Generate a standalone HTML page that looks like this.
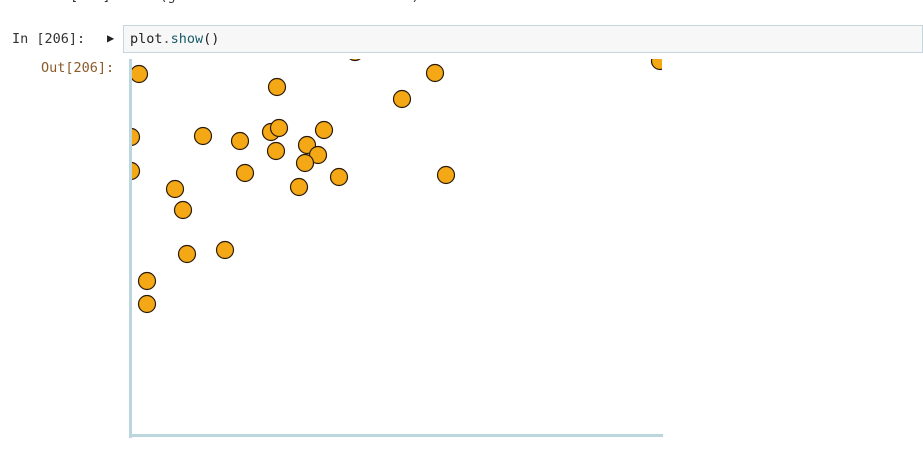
<!DOCTYPE html>
<html><head><meta charset="utf-8"><style>
body{margin:0;width:923px;height:451px;background:#fff;overflow:hidden;position:relative;font-family:"DejaVu Sans Mono","Liberation Mono",monospace;font-size:13.5px}
.abs{position:absolute}
</style></head><body>
<div class="abs" style="left:70px;top:-12px;color:#333;white-space:pre">[   ]  #12 (generic function with 1 method)</div>
<div class="abs" style="left:12px;top:31px;color:#333">In [206]:</div>
<div class="abs" style="left:107px;top:31px;font-size:12px;color:#222">&#9654;</div>
<div class="abs" style="left:123px;top:25px;width:800px;height:28px;background:#f7f7f7;border:1px solid #c5d6dc;box-sizing:border-box;padding:5px 6px;color:#222">plot<span style="color:#555">.</span><span style="color:#1a5a6a">show</span>()</div>
<div class="abs" style="left:41px;top:60px;color:#8b5a2b">Out[206]:</div>
<svg class="abs" style="left:0;top:0" width="923" height="451">
<defs><clipPath id="c"><rect x="131" y="59" width="531" height="376"/></clipPath></defs>
<g id="pts" clip-path="url(#c)"></g>
<rect x="129" y="59" width="3" height="379" fill="#bcd6de"/>
<rect x="129" y="434" width="534" height="3" fill="#bcd6de"/>
</svg>
<script>
const xs=[8,224,146,304,271,529,0,72,109,140,148,193,145,176,187,174,0,114,168,208,315,44,52,94,56,16,16];
const ys=[361,383,348,362,336,374,298,299,294,303,307,305,284,290,280,272,264,262,248,258,260,246,225,185,181,154,131];
const X=v=>131+v, Y=v=>435-v;
const g=document.getElementById('pts');
xs.forEach((x,i)=>{
 const c=document.createElementNS('http://www.w3.org/2000/svg','circle');
 c.setAttribute('cx',X(x));c.setAttribute('cy',Y(ys[i]));c.setAttribute('r',8.5);
 c.setAttribute('fill','#f5a816');c.setAttribute('stroke','#2a1a08');c.setAttribute('stroke-width','1.2');
 
 
 g.appendChild(c);
});
</script>
</body></html>
